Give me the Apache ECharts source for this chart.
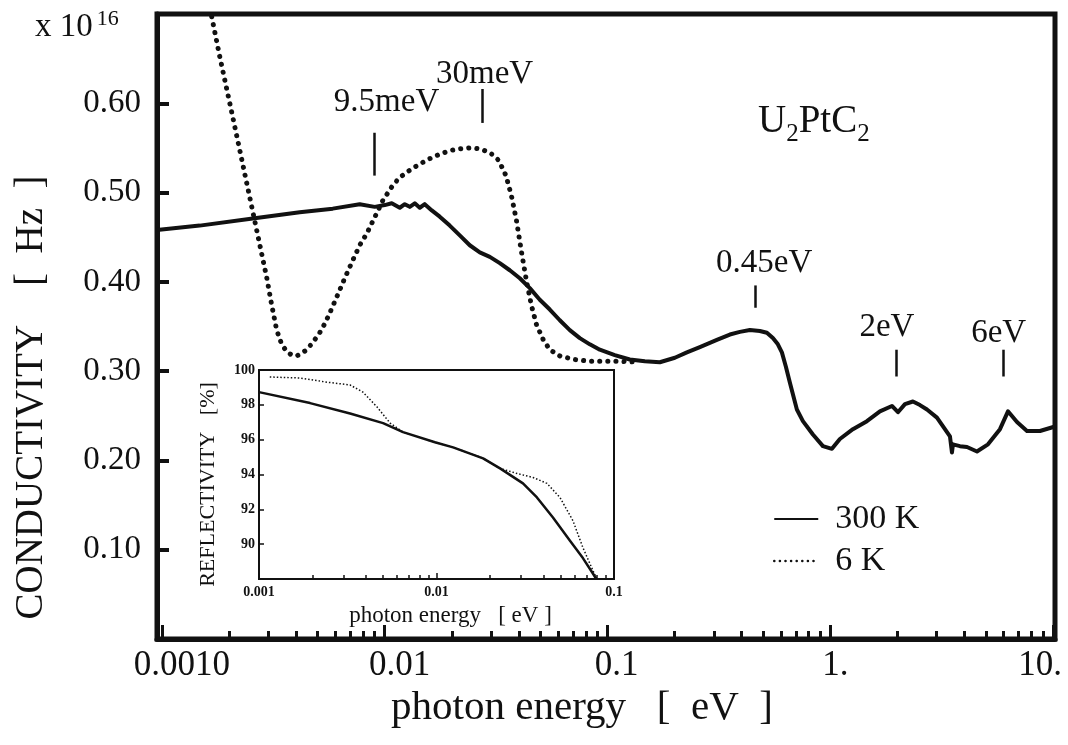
<!DOCTYPE html>
<html><head><meta charset="utf-8">
<script src="https://cdn.jsdelivr.net/npm/echarts@6/dist/echarts.min.js"></script>
<style>html,body{margin:0;padding:0;background:#fff}#c{width:1068px;height:745px}</style>
</head><body><div id="c"></div>
<script>
// ---- main panel: optical conductivity (x 10^16 Hz) vs photon energy (eV)
const solidX = [0.00095, 0.001477, 0.002555, 0.004153, 0.005841, 0.007721, 0.009019, 0.0100, 0.01075, 0.01168, 0.01230, 0.01295, 0.01364, 0.01436, 0.01512, 0.01626, 0.01766, 0.01958, 0.02172, 0.02408, 0.02671, 0.02962, 0.03284, 0.03642, 0.04039, 0.04479, 0.04966, 0.05508, 0.06107, 0.06772, 0.07510, 0.08328, 0.09235, 0.1078, 0.1259, 0.1471, 0.1717, 0.2006, 0.2271, 0.2597, 0.3096, 0.3541, 0.3927, 0.4355, 0.4830, 0.5192, 0.5524, 0.5817, 0.6063, 0.6319, 0.6587, 0.7079, 0.7534, 0.8355, 0.9265, 1.017, 1.104, 1.263, 1.460, 1.670, 1.891, 2.012, 2.163, 2.349, 2.526, 2.716, 3.011, 3.444, 3.516, 3.553, 3.819, 4.107, 4.553, 5.103, 5.776, 6.274, 6.886, 7.636, 8.733, 10.2];
const solidY = [0.458, 0.463, 0.471, 0.478, 0.482, 0.487, 0.484, 0.486, 0.488, 0.483, 0.487, 0.484, 0.488, 0.483, 0.487, 0.480, 0.473, 0.463, 0.452, 0.441, 0.433, 0.428, 0.421, 0.413, 0.404, 0.393, 0.380, 0.369, 0.357, 0.346, 0.337, 0.330, 0.324, 0.318, 0.313, 0.311, 0.310, 0.315, 0.321, 0.327, 0.335, 0.341, 0.344, 0.346, 0.345, 0.343, 0.337, 0.330, 0.321, 0.305, 0.287, 0.257, 0.244, 0.229, 0.216, 0.213, 0.224, 0.235, 0.244, 0.255, 0.261, 0.254, 0.263, 0.266, 0.262, 0.257, 0.248, 0.227, 0.209, 0.218, 0.216, 0.215, 0.210, 0.218, 0.235, 0.255, 0.243, 0.233, 0.233, 0.238];
const dottedX = [0.001672, 0.001815, 0.001953, 0.002077, 0.002233, 0.002400, 0.002555, 0.002746, 0.002952, 0.003109, 0.003273, 0.003447, 0.003630, 0.003823, 0.004025, 0.004238, 0.004464, 0.004750, 0.005106, 0.005378, 0.005663, 0.006088, 0.006612, 0.007182, 0.007721, 0.008301, 0.009207, 0.009795, 0.01086, 0.01168, 0.01295, 0.01436, 0.01593, 0.01766, 0.01958, 0.02172, 0.02408, 0.02671, 0.02962, 0.0325, 0.0350, 0.0370, 0.0390, 0.0410, 0.0432, 0.0455, 0.0480, 0.0515, 0.05508, 0.06107, 0.07132, 0.08328, 0.09726, 0.1136, 0.1397];
const dottedY = [0.697, 0.653, 0.616, 0.585, 0.548, 0.511, 0.479, 0.442, 0.405, 0.374, 0.346, 0.330, 0.322, 0.318, 0.317, 0.320, 0.324, 0.332, 0.343, 0.353, 0.365, 0.383, 0.404, 0.424, 0.441, 0.454, 0.477, 0.491, 0.508, 0.517, 0.525, 0.532, 0.538, 0.543, 0.547, 0.549, 0.550, 0.549, 0.545, 0.536, 0.519, 0.497, 0.469, 0.435, 0.402, 0.374, 0.352, 0.335, 0.324, 0.317, 0.313, 0.311, 0.311, 0.311, 0.310];
const legendNames = ['300 K', '6 K'];
const xTickLabels = ['0.0010', '0.01', '0.1', '1.', '10.'];   // decades 1e-3 .. 1e1
const yTickLabels = ['0.10', '0.20', '0.30', '0.40', '0.50', '0.60'];
const annotLabels = ['9.5meV', '30meV', '0.45eV', '2eV', '6eV'];
const annotX = [0.009, 0.0275, 0.46, 1.97, 6.0];
const annotYLow = [0.519, 0.578, 0.371, 0.294, 0.294];
const annotYHigh = [0.567, 0.616, 0.396, 0.324, 0.324];

// ---- inset: reflectivity (%) vs photon energy (eV)
const insetSolidX = [0.001, 0.00194, 0.00326, 0.0050, 0.00648, 0.0098, 0.0124, 0.0183, 0.0228, 0.0307, 0.0368, 0.0453, 0.0565, 0.0668, 0.0762, 0.0795];
const insetSolidY = [98.73, 98.1, 97.5, 96.95, 96.43, 95.85, 95.56, 94.93, 94.35, 93.49, 92.68, 91.53, 90.2, 89.2, 88.3, 88.0];
const insetDottedX = [0.00115, 0.0017, 0.00242, 0.00326, 0.00385, 0.00463, 0.00548, 0.00648, 0.0098, 0.0124, 0.0183, 0.0228, 0.0284, 0.035, 0.0419, 0.0496, 0.0587, 0.0668, 0.0762, 0.0801];
const insetDottedY = [99.6, 99.54, 99.3, 99.14, 98.73, 97.87, 96.95, 96.43, 95.85, 95.56, 94.93, 94.35, 94.06, 93.83, 93.49, 92.68, 91.35, 89.8, 88.47, 88.0];
const insetXTickLabels = ['0.001', '0.01', '0.1'];            // decades 1e-3 .. 1e-1
const insetYTickLabels = ['90', '92', '94', '96', '98', '100'];

// ---- styling constants (not data)
const F = '"Liberation Serif", "Times New Roman", serif';
const INK = '#111';
const xMin = 0.00095, xMax = 10.2;
const xLabelShift = [20, 15, 9, 5, -13];                 // px nudges of the decade labels, as printed
const annotDist = [14, -2, 6, 6, 0];
const annotShift = [12, 2, 9, -9, -5];

// ---- helpers
const zip = (xs, ys) => xs.map((x, i) => [x, ys[i]]);
const minorLogTicks = (d0, d1) => { const out = []; for (let d = d0; d < d1; d++) for (let m = 2; m <= 9; m++) out.push(+(m * Math.pow(10, d)).toPrecision(3)); return out; };
const decadeIndex = v => { const lg = Math.log10(v); const r = Math.round(lg); return Math.abs(lg - r) > 1e-6 ? null : r; };
const mainXFmt = v => { const r = decadeIndex(v); if (r === null) return ''; const i = r + 3; return xTickLabels[i] ? '{l' + i + '|' + xTickLabels[i] + '}' : ''; };
const insetXFmt = v => { const r = decadeIndex(v); if (r === null) return ''; return insetXTickLabels[r + 3] || ''; };
const xRich = {};
xTickLabels.forEach((t, i) => { const s = xLabelShift[i]; xRich['l' + i] = {fontFamily: F, fontSize: 35, color: INK, padding: s >= 0 ? [0, 0, 0, 2 * s] : [0, -2 * s, 0, 0]}; });

const chart = echarts.init(document.getElementById('c'), null, {renderer: 'canvas'});
const annotData = annotLabels.map((t, i) => [
  {coord: [annotX[i], annotYLow[i]]},
  {coord: [annotX[i], annotYHigh[i]],
   label: {formatter: t, distance: annotDist[i],
     padding: annotShift[i] >= 0 ? [0, 0, 0, 2 * annotShift[i]] : [0, -2 * annotShift[i], 0, 0]}}
]);

chart.setOption({
  animation: false,
  backgroundColor: '#fff',
  title: [
    {text: 'x 10{s|16}', left: 30, top: 3,
     textStyle: {fontFamily: F, fontSize: 33, fontWeight: 'normal', color: INK, lineHeight: 38,
       rich: {s: {fontFamily: F, fontSize: 22, color: INK, verticalAlign: 'top', lineHeight: 22, padding: [0, 0, 0, 4]}}}},
    {text: 'U{b|2}PtC{b|2}', left: 753, top: 92,
     textStyle: {fontFamily: F, fontSize: 39, fontWeight: 'normal', color: INK, lineHeight: 50,
       rich: {b: {fontFamily: F, fontSize: 25, color: INK, verticalAlign: 'bottom', lineHeight: 24}}}}
  ],
  legend: {
    data: [{name: legendNames[0]}, {name: legendNames[1], lineStyle: {width: 2.5, type: [0.1, 5.5], cap: 'round'}}],
    orient: 'vertical', left: 768, top: 497, itemWidth: 44, itemHeight: 14, itemGap: 8, selectedMode: false,
    itemStyle: {opacity: 0},
    textStyle: {fontFamily: F, fontSize: 34, color: INK, padding: [0, 0, 0, 12]}
  },
  grid: [
    {left: 157, right: 13, top: 14, bottom: 106, show: true, borderColor: INK, borderWidth: 5, backgroundColor: 'transparent', outerBoundsMode: 'none'},
    {left: 259, top: 370, width: 355, height: 209, show: true, borderColor: INK, borderWidth: 2, backgroundColor: '#fff', outerBoundsMode: 'none'}
  ],
  xAxis: [
    {gridIndex: 0, type: 'log', logBase: 10, min: xMin, max: xMax, position: 'bottom',
     axisLine: {show: true, onZero: false, lineStyle: {color: INK, width: 5}},
     axisTick: {show: true, inside: true, length: 14, lineStyle: {color: INK, width: 3}},
     axisLabel: {formatter: mainXFmt, rich: xRich, fontFamily: F, fontSize: 35, color: INK, margin: 9},
     splitLine: {show: false},
     name: 'photon energy   [  eV  ]', nameLocation: 'middle', nameGap: 46,
     nameTextStyle: {fontFamily: F, fontSize: 41, color: INK, padding: [0, 48, 0, 0]}},
    {gridIndex: 0, type: 'log', logBase: 10, min: xMin, max: xMax, position: 'bottom',
     axisLine: {show: false}, axisLabel: {show: false}, splitLine: {show: false},
     axisTick: {show: true, inside: true, length: 8, lineStyle: {color: INK, width: 3}, customValues: minorLogTicks(-3, 1)}},
    {gridIndex: 1, type: 'log', logBase: 10, min: 0.001, max: 0.1, position: 'bottom',
     axisLine: {show: true, onZero: false, lineStyle: {color: INK, width: 2}},
     axisTick: {show: true, inside: true, length: 6, lineStyle: {color: INK, width: 1.5}},
     axisLabel: {formatter: insetXFmt, fontFamily: F, fontSize: 14, fontWeight: 'bold', color: INK, margin: 6},
     splitLine: {show: false},
     name: 'photon energy   [ eV ]', nameLocation: 'middle', nameGap: 25,
     nameTextStyle: {fontFamily: F, fontSize: 23, color: INK, padding: [0, 0, 0, 28]}},
    {gridIndex: 1, type: 'log', logBase: 10, min: 0.001, max: 0.1, position: 'bottom',
     axisLine: {show: false}, axisLabel: {show: false}, splitLine: {show: false},
     axisTick: {show: true, inside: true, length: 4, lineStyle: {color: INK, width: 1.5}, customValues: minorLogTicks(-3, -1)}}
  ],
  yAxis: [
    {gridIndex: 0, type: 'value', min: 0, max: 0.7, interval: 0.1,
     axisLine: {show: true, lineStyle: {color: INK, width: 5}},
     axisTick: {show: true, inside: true, length: 12, lineStyle: {color: INK, width: 4}},
     axisLabel: {formatter: v => yTickLabels[Math.round(v * 10) - 1] || '', fontFamily: F, fontSize: 33, color: INK, margin: 16},
     splitLine: {show: false},
     name: 'CONDUCTIVITY    [  Hz  ]', nameLocation: 'middle', nameGap: 106,
     nameTextStyle: {fontFamily: F, fontSize: 39, color: INK, padding: [0, 142, 0, 0]}},
    {gridIndex: 1, type: 'value', min: 88, max: 100, interval: 2,
     axisLine: {show: true, lineStyle: {color: INK, width: 2}},
     axisTick: {show: true, inside: true, length: 5, lineStyle: {color: INK, width: 1.5}},
     axisLabel: {formatter: v => insetYTickLabels[Math.round((v - 90) / 2)] || '', fontFamily: F, fontSize: 14, fontWeight: 'bold', color: INK, margin: 4},
     splitLine: {show: false},
     name: 'REFLECTIVITY   [%]', nameLocation: 'middle', nameGap: 40,
     nameTextStyle: {fontFamily: F, fontSize: 22, color: INK, padding: [0, 20, 0, 0]}}
  ],
  series: [
    {name: legendNames[0], type: 'line', xAxisIndex: 0, yAxisIndex: 0, symbol: 'none', z: 3,
     data: zip(solidX, solidY), lineStyle: {color: INK, width: 4, join: 'round'}, itemStyle: {color: INK},
     markLine: {silent: true, symbol: ['none', 'none'], animation: false,
       lineStyle: {color: INK, width: 2.5, type: 'solid'},
       label: {show: true, position: 'end', fontFamily: F, fontSize: 33, color: INK},
       emphasis: {disabled: true},
       data: annotData}},
    {name: legendNames[1], type: 'line', xAxisIndex: 0, yAxisIndex: 0, symbol: 'none', z: 3,
     data: zip(dottedX, dottedY), lineStyle: {color: INK, width: 5, type: [0.1, 8], cap: 'round'}, itemStyle: {color: INK}},
    {name: 'inset 300 K', type: 'line', xAxisIndex: 2, yAxisIndex: 1, symbol: 'none', z: 4,
     data: zip(insetSolidX, insetSolidY), lineStyle: {color: INK, width: 2.5}},
    {name: 'inset 6 K', type: 'line', xAxisIndex: 2, yAxisIndex: 1, symbol: 'none', z: 4,
     data: zip(insetDottedX, insetDottedY), lineStyle: {color: INK, width: 1.5, type: [1.5, 2]}}
  ]
});
</script>
</body></html>
